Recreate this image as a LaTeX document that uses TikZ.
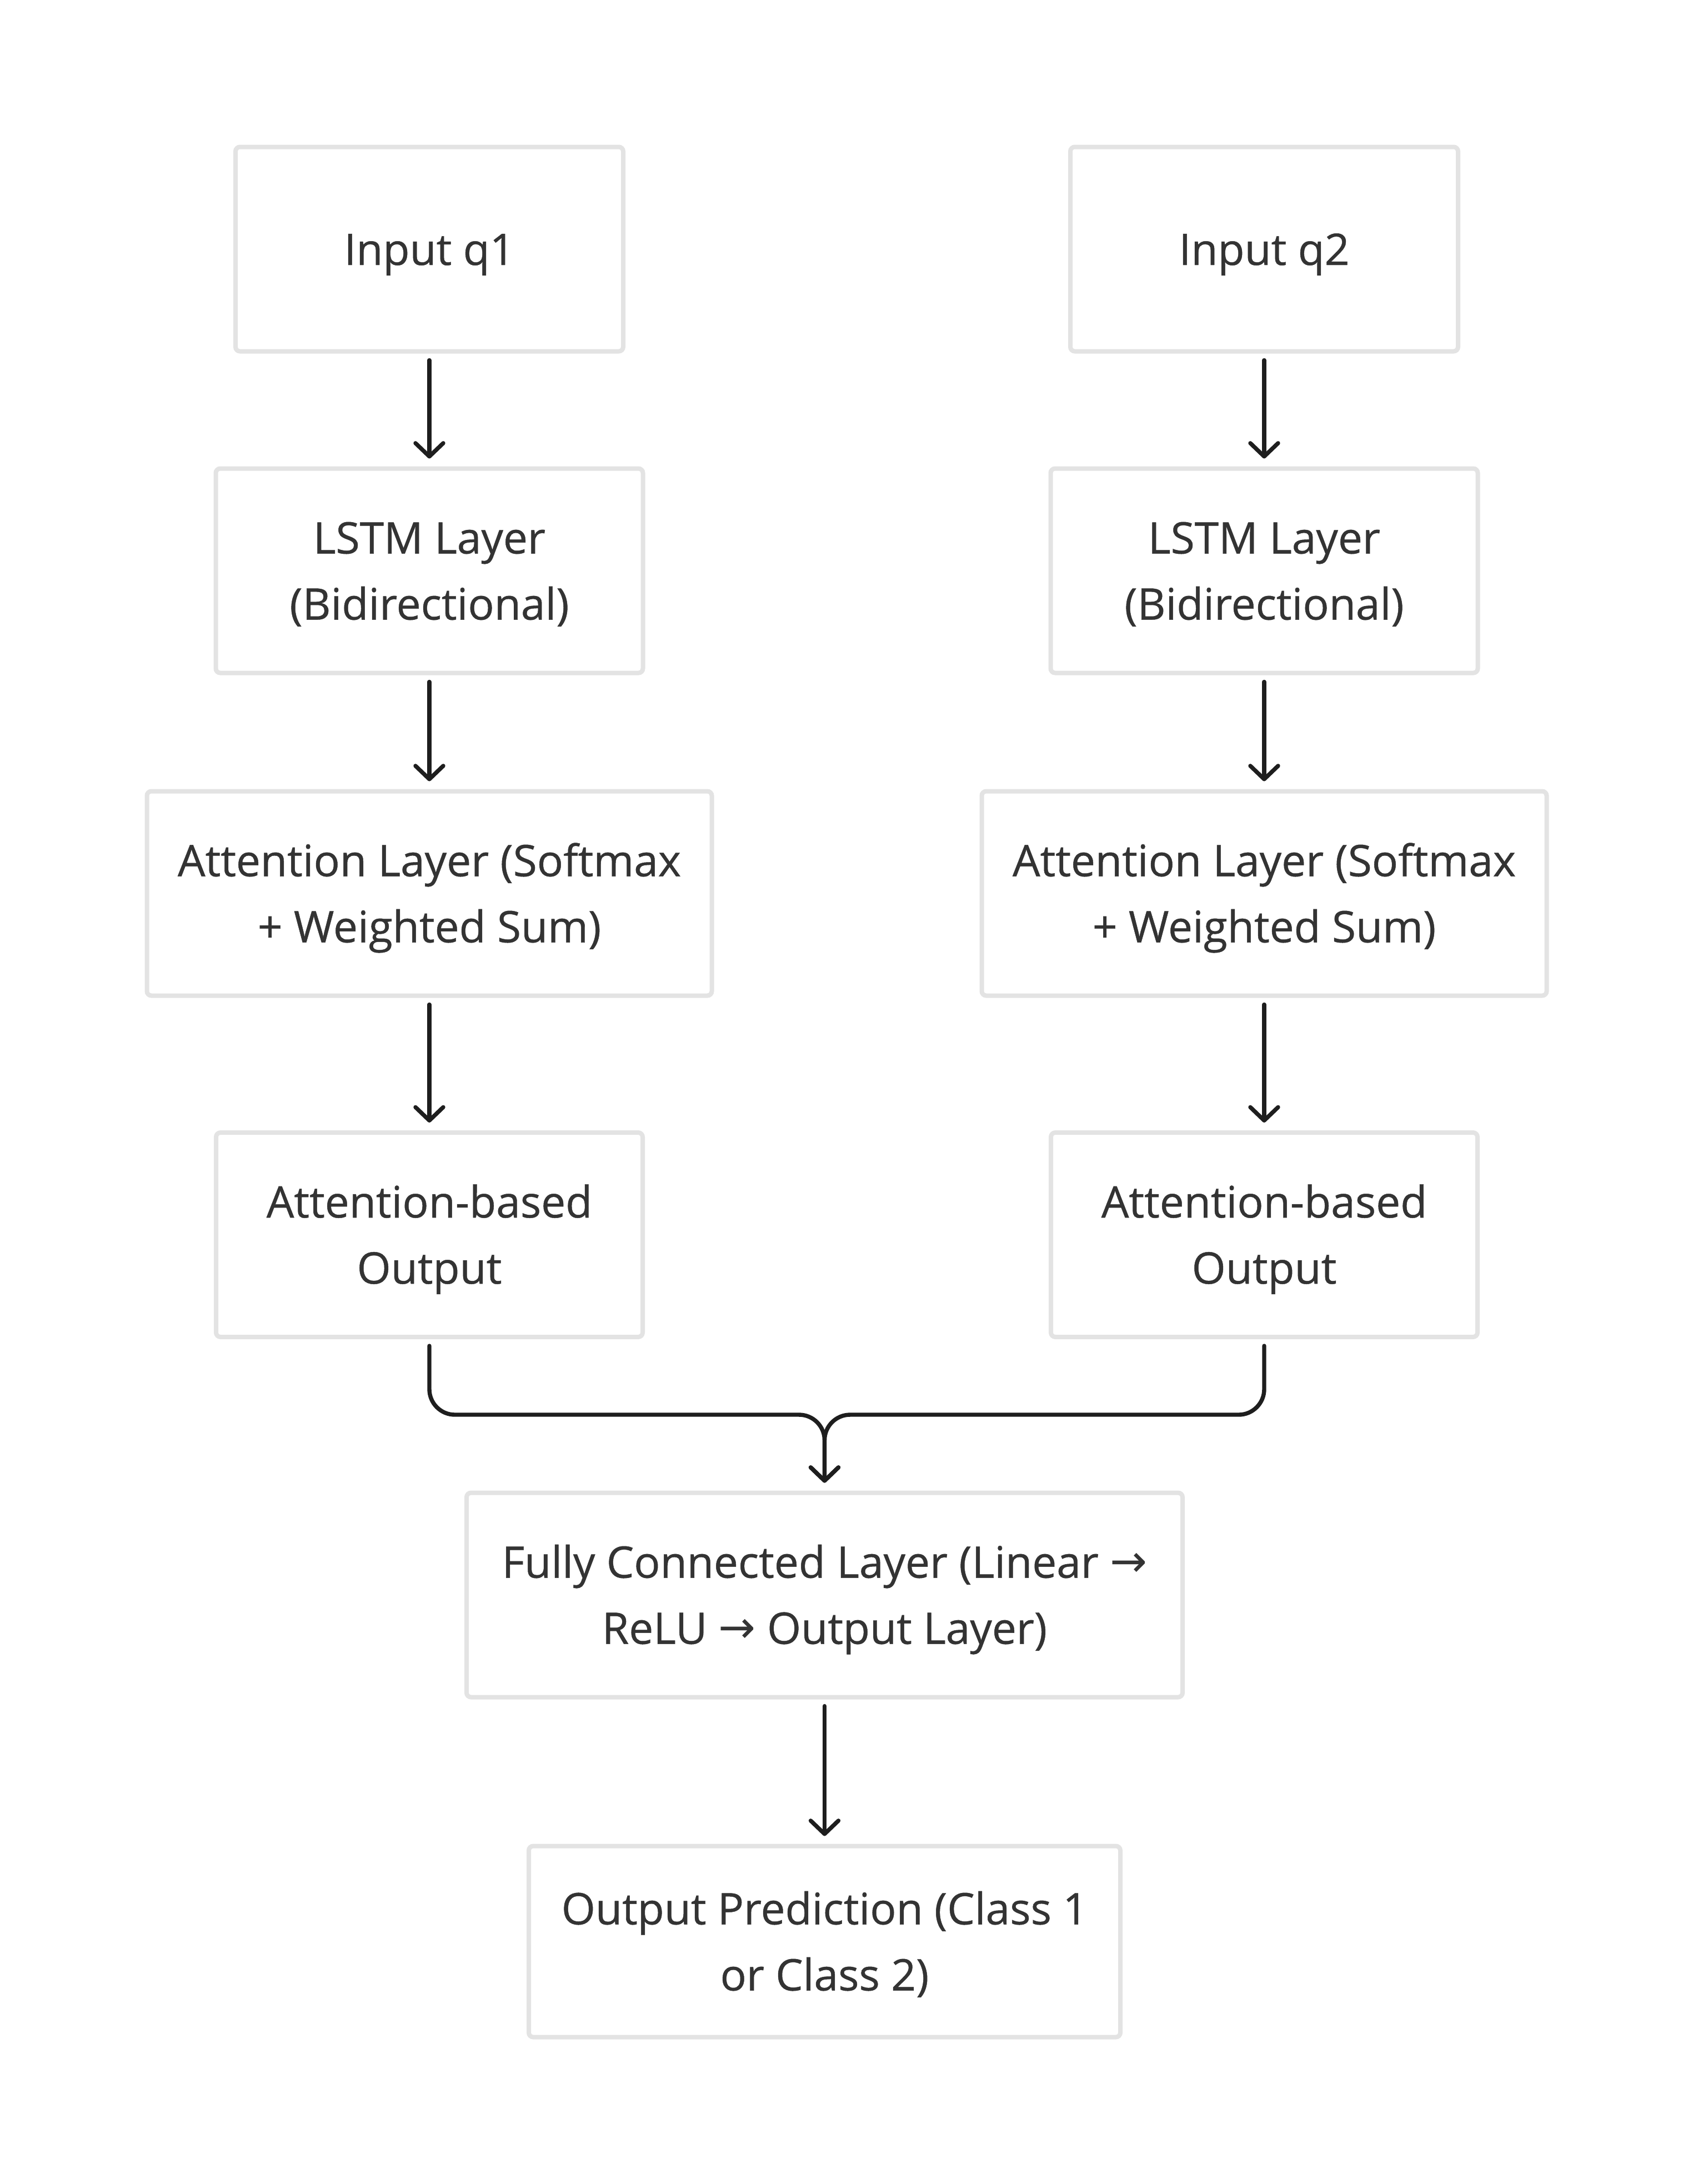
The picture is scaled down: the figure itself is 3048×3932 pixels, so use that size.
\documentclass[tikz,border=0pt]{standalone}
\usepackage{fontspec}
\setmainfont{Open Sans}[FakeBold=0.6]
\newfontfamily\arrowfont{DejaVu Sans}
\usetikzlibrary{arrows.meta}
\definecolor{boxline}{HTML}{E3E3E3}
\definecolor{txt}{HTML}{333333}
\definecolor{conn}{HTML}{1E1E1E}
\newcommand{\twol}[2]{\vtop{\halign{\hfil##\hfil\cr #1\cr #2\cr}}}
\newcommand{\myarr}{{\arrowfont\fontsize{20pt}{20pt}\selectfont\raisebox{0.5pt}{→}}}
\begin{document}
\begin{tikzpicture}[x=0.25pt,y=-0.25pt,
  blk/.style={draw=boxline, line width=2pt, rounded corners=2pt, fill=white,
    text=txt, minimum height=92pt, inner sep=0pt, text height=14.25pt,
    font=\fontsize{19.6pt}{29.75pt}\selectfont},
  one/.style={text depth=0pt},
  two/.style={text depth=29.75pt},
  link/.style={draw=conn, line width=1.85pt, line cap=round,
    -{Straight Barb[length=6pt,width=12.5pt,round]},
    shorten <=3pt, shorten >=3.5pt}]
\useasboundingbox (0,0) rectangle (3048,3932);
\fill[white] (0,0) rectangle (3048,3932);

\node[blk,one,minimum width=174.5pt] (in1) at (773,448.5) {Input q1};
\node[blk,one,minimum width=174.5pt] (in2) at (2276,448.5) {Input q2};
\node[blk,two,minimum width=192.25pt] (ls1) at (773,1027.5) {\twol{LSTM Layer}{(Bidirectional)}};
\node[blk,two,minimum width=192.25pt] (ls2) at (2276,1027.5) {\twol{LSTM Layer}{(Bidirectional)}};
\node[blk,two,minimum width=254.25pt] (at1) at (773,1608.5) {\twol{Attention Layer (Softmax}{+ Weighted Sum)}};
\node[blk,two,minimum width=254.25pt] (at2) at (2276,1608.5) {\twol{Attention Layer (Softmax}{+ Weighted Sum)}};
\node[blk,two,minimum width=192pt] (ao1) at (773,2223) {\twol{Attention-based}{Output}};
\node[blk,two,minimum width=192pt] (ao2) at (2276,2223) {\twol{Attention-based}{Output}};
\node[blk,two,minimum width=322.25pt] (fc) at (1484.5,2871.5) {\twol{Fully Connected Layer (Linear \myarr}{ReLU \myarr{} Output Layer)}};
\node[blk,two,minimum width=266.25pt,minimum height=86pt] (out) at (1484.5,3495.5) {\twol{Output Prediction (Class 1}{or Class 2)}};

\draw[link] (in1) -- (ls1);
\draw[link] (in2) -- (ls2);
\draw[link] (ls1) -- (at1);
\draw[link] (ls2) -- (at2);
\draw[link] (at1) -- (ao1);
\draw[link] (at2) -- (ao2);
\coordinate (m) at (0,2547);
\draw[link, rounded corners=11.5pt] (ao1.south) -- (ao1.south |- m) -- (fc.north |- m) -- (fc.north);
\draw[link, rounded corners=11.5pt] (ao2.south) -- (ao2.south |- m) -- (fc.north |- m) -- (fc.north);
\draw[link] (fc) -- (out);
\end{tikzpicture}
\end{document}
